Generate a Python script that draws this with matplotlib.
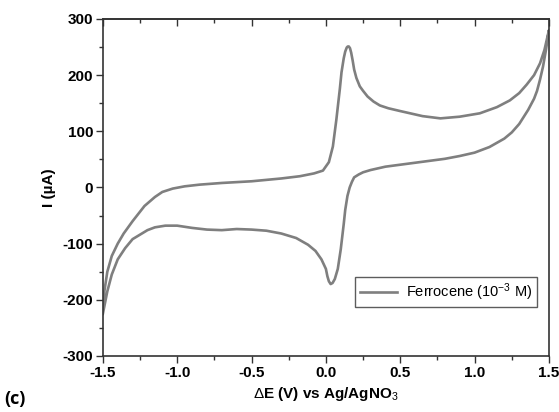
import matplotlib
matplotlib.use("Agg")
import matplotlib.pyplot as plt
from matplotlib.ticker import MultipleLocator

# Forward (anodic) scan, -1.5 -> 1.5 V
fwd_x = [-1.5, -1.49, -1.47, -1.44, -1.40, -1.36, -1.30, -1.22, -1.15, -1.10, -1.03,
         -0.95, -0.85, -0.7, -0.5, -0.3, -0.175, -0.08, -0.02, 0.02, 0.047, 0.07,
         0.094, 0.105, 0.12, 0.13, 0.14, 0.147, 0.154, 0.162, 0.17, 0.18, 0.19, 0.205,
         0.228, 0.25, 0.28, 0.32, 0.363, 0.42, 0.5, 0.65, 0.77, 0.9, 1.035, 1.15,
         1.237, 1.3, 1.35, 1.4, 1.44, 1.47, 1.5]
fwd_y = [-215, -185, -150, -122, -100, -82, -60, -33, -17, -8, -2,
         2, 5, 8, 11, 16, 20, 25, 30, 45, 73, 120,
         176, 205, 230, 242, 249, 251, 251, 248, 240, 226, 210, 195,
         180, 172, 162, 153, 146, 141, 136, 127, 123, 126, 132, 143,
         155, 168, 183, 200, 221, 245, 280]

# Reverse (cathodic) scan, 1.5 -> -1.5 V
rev_x = [1.5, 1.48, 1.46, 1.44, 1.42, 1.40, 1.36, 1.30, 1.25, 1.2, 1.1, 1.0, 0.9,
         0.8, 0.6, 0.4, 0.3, 0.25, 0.22, 0.19, 0.175, 0.16, 0.145, 0.13, 0.12, 0.10,
         0.08, 0.06, 0.045, 0.032, 0.02, 0.01, 0.0, -0.03, -0.07, -0.12, -0.2,
         -0.3, -0.4, -0.5, -0.6, -0.7, -0.8, -0.9, -1.0, -1.08, -1.15, -1.2, -1.25,
         -1.3, -1.35, -1.4, -1.44, -1.47, -1.5]
rev_y = [280, 245, 215, 192, 172, 158, 138, 113, 98, 87, 72, 62, 56,
         51, 44, 37, 31, 27, 23, 18, 10, 0, -15, -40, -65, -110,
         -145, -163, -170, -172, -167, -158, -145, -128, -113, -102, -90,
         -82, -77, -75, -74, -76, -75, -72, -68, -68, -71, -76, -84,
         -92, -108, -128, -155, -185, -225]

legend_label = "Ferrocene (10$^{-3}$ M)"
xlabel = r"$\Delta$E (V) vs Ag/AgNO$_3$"
ylabel = "I (\u00b5A)"
xtick_vals = [-1.5, -1.0, -0.5, 0.0, 0.5, 1.0, 1.5]
xtick_labels = ['-1.5', '-1.0', '-0.5', '0.0', '0.5', '1.0', '1.5']
ytick_vals = [-300, -200, -100, 0, 100, 200, 300]
ytick_labels = ['-300', '-200', '-100', '0', '100', '200', '300']

plt.rcParams['font.family'] = ['Liberation Sans', 'DejaVu Sans']
plt.rcParams['axes.unicode_minus'] = False
plt.rcParams['mathtext.fontset'] = 'custom'
plt.rcParams['mathtext.rm'] = 'Liberation Sans'
plt.rcParams['mathtext.it'] = 'Liberation Sans'
plt.rcParams['mathtext.bf'] = 'Liberation Sans:bold'

fig = plt.figure(figsize=(5.59, 4.12), dpi=100)
ax = fig.add_axes([0.184, 0.136, 0.798, 0.818])

line_color = '#7f7f7f'
ax.plot(fwd_x + rev_x, fwd_y + rev_y, color=line_color, lw=1.9, label=legend_label)

ax.set_xlim(-1.5, 1.5)
ax.set_ylim(-300, 300)
ax.set_xticks(xtick_vals)
ax.set_xticklabels(xtick_labels)
ax.set_yticks(ytick_vals)
ax.set_yticklabels(ytick_labels)
ax.xaxis.set_minor_locator(MultipleLocator(0.25))
ax.yaxis.set_minor_locator(MultipleLocator(50))

for s in ax.spines.values():
    s.set_color('#333333')
    s.set_linewidth(1.2)

ax.tick_params(which='both', direction='out', top=False, right=False, colors='#333333',
               labelsize=11, width=1.0, pad=2)
ax.tick_params(which='major', length=5)
ax.tick_params(which='minor', length=3)
for lab in ax.get_xticklabels() + ax.get_yticklabels():
    lab.set_fontweight('bold')
    lab.set_color('black')

# top axis: inward ticks, no labels
top = ax.secondary_xaxis('top')
top.set_xticks(xtick_vals)
top.xaxis.set_minor_locator(MultipleLocator(0.25))
top.tick_params(which='both', direction='in', colors='#333333', width=1.0, labeltop=False)
top.tick_params(which='major', length=5)
top.tick_params(which='minor', length=3)
top.spines['top'].set_color('#333333')
top.spines['top'].set_linewidth(1.2)

ax.set_xlabel(xlabel, fontsize=11, fontweight='bold', labelpad=4)
ax.set_ylabel(ylabel, fontsize=11, fontweight='bold', labelpad=5)

leg = ax.legend(loc='lower right', frameon=True, fancybox=False, fontsize=10.5,
                handlelength=2.6, borderpad=0.3, handletextpad=0.6, borderaxespad=0,
                bbox_to_anchor=(0.973, 0.145))
leg.get_frame().set_edgecolor('#333333')
leg.get_frame().set_linewidth(1.0)

fig.text(0.008, 0.02, "(c)", fontsize=13, fontweight='bold', family=['Open Sans', 'DejaVu Sans'])

fig.savefig("out.png", dpi=100)
